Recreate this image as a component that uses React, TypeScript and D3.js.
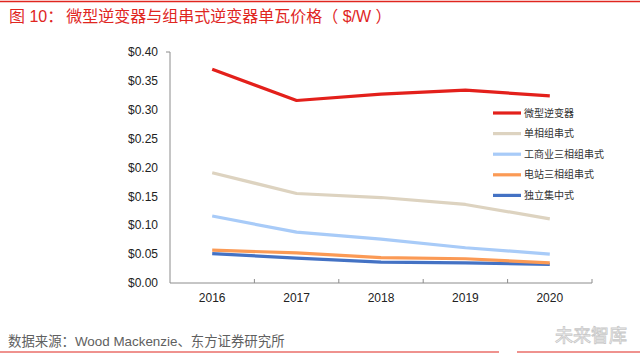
import React from "react";
import * as d3 from "d3";

const years = ["2016", "2017", "2018", "2019", "2020"];
const seriesNames = ["微型逆变器", "单相组串式", "工商业三相组串式", "电站三相组串式", "独立集中式"];
const microInverter = [0.370, 0.316, 0.327, 0.334, 0.324];
const singlePhase = [0.191, 0.155, 0.148, 0.136, 0.111];
const commercialThreePhase = [0.116, 0.088, 0.076, 0.061, 0.050];
const utilityThreePhase = [0.057, 0.052, 0.044, 0.042, 0.035];
const central = [0.051, 0.043, 0.036, 0.035, 0.032];
const yTicks = [0, 0.05, 0.1, 0.15, 0.2, 0.25, 0.3, 0.35, 0.4];
const colors = ["#e3201b", "#ddd3c0", "#a8cbf8", "#fb9a55", "#4472c4"];

const allSeries = [microInverter, singlePhase, commercialThreePhase, utilityThreePhase, central];

const width = 640;
const height = 361;
const marginLeft = 170;
const marginRight = 48;
const marginTop = 52;
const plotBottom = 283;
const font = "'Liberation Sans', Arial, 'Noto Sans CJK SC', sans-serif";
const red = "#e0261f";

export default function App() {
  const x = d3.scaleBand<string>().domain(years).range([marginLeft, width - marginRight]);
  const y = d3.scaleLinear().domain([0, 0.4]).range([plotBottom, marginTop]);
  const line = d3
    .line<number>()
    .x((_, i) => (x(years[i]) ?? 0) + x.bandwidth() / 2)
    .y((d) => y(d));

  // legend sits at the right, beside the lines
  const legendX = 493;
  const legendY = 113;
  const legendStep = 20.6;

  return (
    <svg
      width={width}
      height={height}
      style={{ position: "absolute", left: 0, top: 0, background: "#fff" }}
      fontFamily={font}
    >
      <line x1={0} x2={width} y1={1.5} y2={1.5} stroke={red} strokeWidth={1.5} />
      <text x={9} y={22} fontSize={16} fill={red}>
        <tspan>图 10：</tspan>
        <tspan dx={3}>微型逆变器与组串式逆变器单瓦价格（ $/W ）</tspan>
      </text>

      {/* y axis */}
      <line x1={marginLeft} x2={marginLeft} y1={y(0.4)} y2={y(0)} stroke="#8c8c8c" strokeWidth={1} />
      <line x1={marginLeft - 4} x2={marginLeft} y1={y(0.4)} y2={y(0.4)} stroke="#8c8c8c" strokeWidth={1} />
      {yTicks.map((t) => (
        <text key={t} x={158} y={y(t)} dy="0.35em" textAnchor="end" fontSize={12} fill="#222">
          {"$" + t.toFixed(2)}
        </text>
      ))}

      {/* x axis */}
      <line x1={marginLeft} x2={width - marginRight} y1={plotBottom} y2={plotBottom} stroke="#8c8c8c" strokeWidth={1} />
      {years.map((yr) => (
        <line
          key={"t" + yr}
          x1={(x(yr) ?? 0) + x.bandwidth()}
          x2={(x(yr) ?? 0) + x.bandwidth()}
          y1={plotBottom}
          y2={plotBottom - 4}
          stroke="#8c8c8c"
          strokeWidth={1}
        />
      ))}
      {years.map((yr) => (
        <text
          key={yr}
          x={(x(yr) ?? 0) + x.bandwidth() / 2}
          y={298}
          dy="0.35em"
          textAnchor="middle"
          fontSize={12}
          fill="#222"
        >
          {yr}
        </text>
      ))}

      {/* series, drawn back to front */}
      {allSeries
        .map((s, i) => ({ s, i }))
        .reverse()
        .map(({ s, i }) => (
          <path key={i} d={line(s) ?? ""} fill="none" stroke={colors[i]} strokeWidth={3.2} strokeLinejoin="round" />
        ))}

      {/* legend */}
      {seriesNames.map((n, i) => (
        <g key={n} transform={`translate(${legendX},${legendY + i * legendStep})`}>
          <line x1={0} x2={28} y1={0} y2={0} stroke={colors[i]} strokeWidth={3.2} />
          <text x={31} y={0} dy="0.35em" fontSize={10} fill="#333">
            {n}
          </text>
        </g>
      ))}

      {/* source */}
      <text x={8} y={341} dy="0.35em" fontSize={13.4} fill="#606060">
        数据来源：Wood Mackenzie、东方证券研究所
      </text>
      <text x={627} y={336} dy="0.35em" textAnchor="end" fontSize={18} fill="#fff" stroke="#c8c8c8" strokeWidth={0.8}>
        未来智库
      </text>
      <line x1={0} x2={499} y1={352} y2={352} stroke={red} strokeWidth={1.2} />
      <line x1={517} x2={width} y1={352} y2={352} stroke={red} strokeWidth={1.2} />
    </svg>
  );
}
